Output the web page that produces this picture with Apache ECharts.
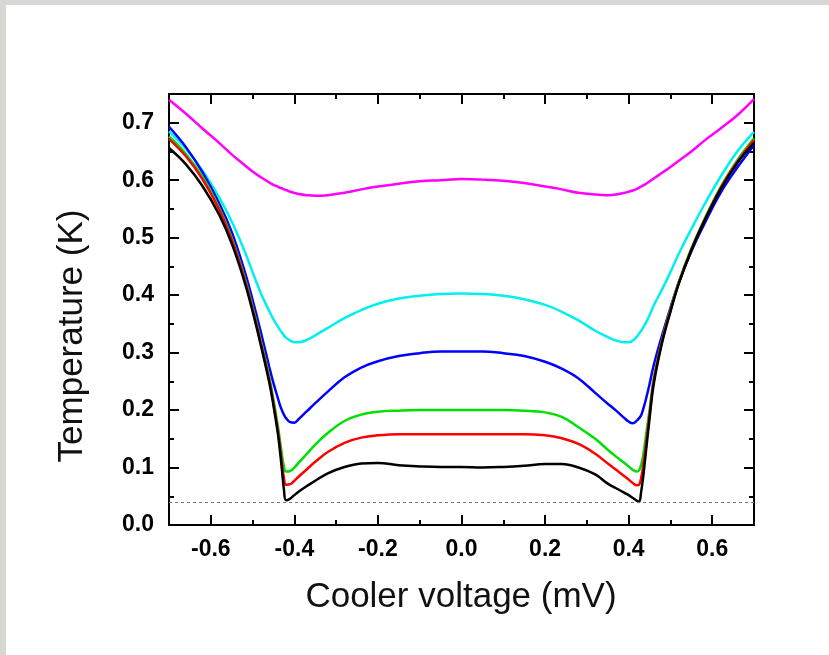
<!DOCTYPE html>
<html>
<head>
<meta charset="utf-8">
<script src="https://cdn.jsdelivr.net/npm/echarts@6/dist/echarts.min.js"></script>
<style>
html, body { margin: 0; padding: 0; background: #fff; }
#chart { width: 829px; height: 655px; }
</style>
</head>
<body>
<div id="chart"></div>
<script>
// cooler voltage (mV), shared by all curves
const voltage = [-0.70, -0.66, -0.62, -0.58, -0.55, -0.52, -0.50, -0.48, -0.46, -0.45, -0.44, -0.435, -0.43, -0.425,
    -0.42, -0.41, -0.40, -0.39, -0.37, -0.35, -0.32, -0.28, -0.24, -0.20, -0.15, -0.10, -0.05, 0.00,
    0.05, 0.10, 0.15, 0.20, 0.24, 0.28, 0.32, 0.35, 0.37, 0.39, 0.40, 0.41, 0.42, 0.425,
    0.43, 0.435, 0.44, 0.45, 0.46, 0.48, 0.50, 0.52, 0.55, 0.58, 0.62, 0.66, 0.70];

// temperatures (K)
const tMagenta = [0.740, 0.716, 0.690, 0.665, 0.645, 0.627, 0.615, 0.605, 0.596, 0.592, 0.589, 0.587, 0.586, 0.584,
    0.583, 0.580, 0.578, 0.576, 0.574, 0.573, 0.574, 0.578, 0.584, 0.589, 0.594, 0.598, 0.600, 0.602,
    0.601, 0.599, 0.595, 0.589, 0.584, 0.578, 0.575, 0.574, 0.575, 0.578, 0.580, 0.582, 0.585, 0.587,
    0.589, 0.591, 0.593, 0.598, 0.603, 0.613, 0.623, 0.634, 0.650, 0.668, 0.690, 0.713, 0.741];
const tCyan = [0.685, 0.655, 0.617, 0.570, 0.528, 0.478, 0.440, 0.403, 0.372, 0.358, 0.346, 0.340, 0.335, 0.330,
    0.326, 0.321, 0.318, 0.318, 0.322, 0.330, 0.343, 0.360, 0.374, 0.385, 0.394, 0.399, 0.402, 0.403,
    0.402, 0.399, 0.393, 0.383, 0.371, 0.356, 0.338, 0.327, 0.321, 0.318, 0.318, 0.321, 0.328, 0.333,
    0.338, 0.344, 0.350, 0.365, 0.382, 0.410, 0.440, 0.472, 0.515, 0.556, 0.606, 0.650, 0.684];
const tBlue = [0.693, 0.658, 0.614, 0.560, 0.510, 0.444, 0.392, 0.335, 0.275, 0.247, 0.222, 0.210, 0.200, 0.192,
    0.186, 0.179, 0.178, 0.184, 0.198, 0.212, 0.232, 0.257, 0.274, 0.285, 0.294, 0.299, 0.302, 0.302,
    0.302, 0.299, 0.294, 0.284, 0.272, 0.255, 0.230, 0.211, 0.199, 0.186, 0.180, 0.177, 0.182, 0.186,
    0.191, 0.202, 0.215, 0.245, 0.278, 0.330, 0.378, 0.422, 0.476, 0.522, 0.578, 0.622, 0.661];
const tGreen = [0.676, 0.646, 0.606, 0.552, 0.500, 0.433, 0.380, 0.320, 0.257, 0.218, 0.175, 0.150, 0.124, 0.102,
    0.093, 0.094, 0.100, 0.108, 0.124, 0.140, 0.160, 0.181, 0.192, 0.197, 0.199, 0.200, 0.200, 0.200,
    0.200, 0.200, 0.199, 0.196, 0.188, 0.170, 0.150, 0.131, 0.119, 0.108, 0.102, 0.096, 0.093, 0.095,
    0.105, 0.122, 0.148, 0.200, 0.255, 0.322, 0.375, 0.423, 0.481, 0.530, 0.588, 0.635, 0.673];
const tRed = [0.672, 0.642, 0.602, 0.549, 0.497, 0.430, 0.376, 0.316, 0.252, 0.212, 0.167, 0.140, 0.110, 0.082,
    0.070, 0.071, 0.077, 0.084, 0.097, 0.110, 0.127, 0.143, 0.152, 0.156, 0.158, 0.158, 0.158, 0.158,
    0.158, 0.158, 0.158, 0.156, 0.151, 0.141, 0.124, 0.107, 0.096, 0.085, 0.079, 0.073, 0.069, 0.070,
    0.082, 0.104, 0.132, 0.192, 0.250, 0.320, 0.373, 0.421, 0.479, 0.528, 0.586, 0.632, 0.670];
const tBlack = [0.656, 0.628, 0.590, 0.540, 0.490, 0.425, 0.372, 0.312, 0.248, 0.208, 0.162, 0.132, 0.098, 0.062,
    0.043, 0.046, 0.052, 0.058, 0.068, 0.077, 0.090, 0.101, 0.107, 0.108, 0.104, 0.102, 0.101, 0.101,
    0.100, 0.101, 0.103, 0.106, 0.106, 0.100, 0.088, 0.072, 0.064, 0.056, 0.052, 0.047, 0.042, 0.040,
    0.058, 0.085, 0.118, 0.185, 0.245, 0.317, 0.371, 0.420, 0.478, 0.527, 0.584, 0.630, 0.665];

const baseTemp = 0.042; // dotted reference line

const majorX = [-0.6, -0.4, -0.2, 0, 0.2, 0.4, 0.6];
const minorX = [-0.5, -0.3, -0.1, 0.1, 0.3, 0.5];
const majorY = [0, 0.1, 0.2, 0.3, 0.4, 0.5, 0.6, 0.7];
const minorY = [0.05, 0.15, 0.25, 0.35, 0.45, 0.55, 0.65];

const curves = [
    { name: 'magenta', color: '#ff00ff', data: tMagenta },
    { name: 'cyan', color: '#00f0f0', data: tCyan },
    { name: 'blue', color: '#0000ff', data: tBlue },
    { name: 'green', color: '#00e000', data: tGreen },
    { name: 'red', color: '#ff0000', data: tRed },
    { name: 'black', color: '#000000', data: tBlack }
];

let chart = echarts.init(document.getElementById('chart'));

const lineStyle = { color: '#000', width: 2 };
const labelFont = { fontFamily: 'Liberation Sans, Arial', fontWeight: 'bold', fontSize: 23, color: '#000' };

function xAx(pos, ticks, len, labels) {
    return {
        type: 'value', position: pos, min: -0.7, max: 0.7,
        axisLine: { show: true, onZero: false, lineStyle: lineStyle },
        axisTick: { show: true, inside: true, length: len, customValues: ticks, lineStyle: lineStyle },
        axisLabel: labels ? Object.assign({ show: true, margin: 13, customValues: ticks,
            formatter: v => v.toFixed(1) }, labelFont) : { show: false },
        splitLine: { show: false }
    };
}
function yAx(pos, ticks, len, labels) {
    return {
        type: 'value', position: pos, min: 0, max: 0.75,
        axisLine: { show: true, onZero: false, lineStyle: lineStyle },
        axisTick: { show: true, inside: true, length: len, customValues: ticks, lineStyle: lineStyle },
        axisLabel: labels ? Object.assign({ show: true, margin: 15, customValues: ticks,
            formatter: v => v.toFixed(1) }, labelFont) : { show: false },
        splitLine: { show: false }
    };
}

let series = curves.map(c => ({
    name: c.name,
    type: 'line',
    showSymbol: false,
    smooth: 0.4,
    data: voltage.map((v, i) => [v, c.data[i]]),
    lineStyle: { color: c.color, width: 2.5 },
    itemStyle: { color: c.color },
    z: 3
}));
series[0].markLine = {
    silent: true, symbol: 'none', label: { show: false },
    lineStyle: { color: '#777', type: [3, 3], width: 1 },
    data: [{ yAxis: baseTemp }]
};

let option = {
    backgroundColor: '#fff',
    animation: false,
    grid: { left: 169, right: 75, top: 94, bottom: 130 },
    xAxis: [
        xAx('bottom', majorX, 10, true),
        xAx('bottom', minorX, 5, false),
        xAx('top', majorX, 10, false),
        xAx('top', minorX, 5, false)
    ],
    yAxis: [
        yAx('left', majorY, 10, true),
        yAx('left', minorY, 5, false),
        yAx('right', majorY, 10, false),
        yAx('right', minorY, 5, false)
    ],
    graphic: [
        { type: 'rect', left: 0, top: 0, shape: { width: 829, height: 5 }, style: { fill: '#d9d7d3' } },
        { type: 'rect', left: 0, top: 0, shape: { width: 6, height: 655 }, style: { fill: '#d9d7d3' } },
        {
            type: 'text', x: 461, y: 597,
            style: { text: 'Cooler voltage (mV)', font: '35px "Liberation Sans", Arial', fill: '#111',
                align: 'center', verticalAlign: 'middle' }
        },
        {
            type: 'text', x: 72, y: 336, rotation: Math.PI / 2,
            style: { text: 'Temperature (K)', font: '35px "Liberation Sans", Arial', fill: '#111',
                align: 'center', verticalAlign: 'middle' }
        }
    ],
    series: series
};

chart.setOption(option);
</script>
</body>
</html>
